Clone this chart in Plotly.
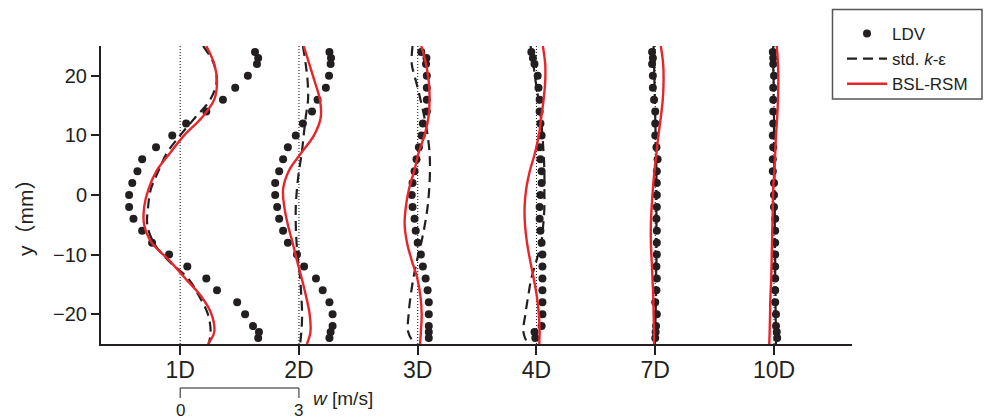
import plotly.graph_objects as go

# Measurement stations downstream and spacing (one station step = 3 m/s of w)
stations = ["1D", "2D", "3D", "4D", "7D", "10D"]
W_STEP = 3.0

# LDV sample heights (mm)
ldv_y = [24, 23, 22, 20, 18, 16, 14, 12, 10, 8, 6, 4, 2, 0,
         -2, -4, -6, -8, -10, -12, -14, -16, -18, -20, -22, -23, -24]

# LDV measured w (m/s) per station
ldv_1d = [1.89, 1.97, 1.94, 1.71, 1.39, 1.08, 0.66, 0.15, -0.20, -0.61, -0.96, -1.08, -1.21, -1.29,
          -1.29, -1.18, -0.96, -0.71, -0.28, 0.18, 0.66, 0.93, 1.44, 1.64, 1.84, 1.99, 1.97]
ldv_2d = [0.77, 0.81, 0.80, 0.76, 0.68, 0.47, 0.33, 0.10, -0.08, -0.28, -0.40, -0.50, -0.60, -0.60,
          -0.55, -0.50, -0.40, -0.28, -0.05, 0.13, 0.43, 0.60, 0.77, 0.85, 0.85, 0.80, 0.77]
ldv_3d = [0.09, 0.22, 0.21, 0.23, 0.23, 0.23, 0.23, 0.13, 0.10, 0.03, -0.03, -0.08, -0.13, -0.15,
          -0.13, -0.08, -0.05, 0.00, 0.08, 0.13, 0.20, 0.25, 0.28, 0.28, 0.28, 0.28, 0.28]
ldv_4d = [-0.13, -0.09, -0.05, 0.03, 0.05, 0.08, 0.08, 0.10, 0.13, 0.08, 0.10, 0.13, 0.13, 0.10,
          0.08, 0.08, 0.10, 0.13, 0.15, 0.15, 0.15, 0.15, 0.15, 0.15, 0.13, -0.05, -0.03]
ldv_7d = [-0.08, -0.06, -0.08, -0.06, -0.06, -0.03, 0.00, 0.00, 0.00, 0.03, 0.06, 0.04, 0.04, 0.04,
          0.04, 0.03, 0.04, 0.04, 0.04, 0.03, 0.04, 0.03, 0.00, 0.04, 0.02, 0.01, 0.00]
ldv_10d = [-0.03, -0.02, -0.02, 0.00, -0.02, -0.02, -0.02, -0.02, -0.03, -0.02, -0.03, -0.03, 0.00, 0.00,
           0.00, 0.03, 0.03, 0.03, 0.03, 0.03, 0.03, 0.03, 0.03, 0.05, 0.05, 0.07, 0.08]

# Simulation profile heights (mm)
sim_y = [25, 22, 19, 16, 13, 10, 7, 4, 1, -2, -5, -8, -11, -14, -17, -20, -23, -25]

# standard k-epsilon w (m/s)
ke_1d = [0.58, 0.85, 0.92, 0.76, 0.38, 0.00, -0.34, -0.55, -0.74, -0.81, -0.83, -0.67, -0.30, 0.20, 0.48, 0.70, 0.77, 0.72]
ke_2d = [0.10, 0.17, 0.22, 0.23, 0.17, 0.12, 0.07, 0.00, -0.05, -0.08, -0.08, -0.06, -0.02, 0.03, 0.06, 0.08, 0.06, 0.03]
ke_3d = [-0.13, -0.15, -0.04, 0.07, 0.17, 0.25, 0.30, 0.31, 0.29, 0.25, 0.18, 0.09, -0.02, -0.11, -0.18, -0.23, -0.24, -0.08]
ke_4d = [-0.15, -0.08, -0.02, 0.05, 0.11, 0.15, 0.18, 0.20, 0.20, 0.20, 0.17, 0.12, 0.00, -0.13, -0.21, -0.28, -0.33, -0.22]
ke_7d = [-0.04, -0.03, -0.02, -0.01, 0.00, 0.01, 0.02, 0.03, 0.03, 0.03, 0.03, 0.03, 0.03, 0.02, 0.02, 0.01, 0.00, -0.01]
ke_10d = [-0.02, -0.02, -0.01, -0.01, 0.00, 0.00, 0.00, 0.01, 0.01, 0.02, 0.02, 0.02, 0.03, 0.03, 0.04, 0.04, 0.05, 0.05]

# BSL Reynolds-stress model w (m/s)
rsm_1d = [0.66, 0.86, 0.93, 0.86, 0.55, 0.10, -0.26, -0.60, -0.80, -0.91, -0.91, -0.72, -0.27, 0.13, 0.53, 0.79, 0.86, 0.70]
rsm_2d = [0.12, 0.26, 0.40, 0.53, 0.55, 0.38, 0.05, -0.26, -0.40, -0.37, -0.28, -0.16, -0.05, 0.07, 0.18, 0.27, 0.29, 0.20]
rsm_3d = [0.09, 0.21, 0.28, 0.30, 0.27, 0.17, 0.02, -0.09, -0.22, -0.30, -0.33, -0.27, -0.15, -0.01, 0.07, 0.10, 0.08, 0.06]
rsm_4d = [0.16, 0.22, 0.22, 0.18, 0.12, 0.06, -0.04, -0.17, -0.26, -0.30, -0.29, -0.24, -0.16, -0.07, 0.01, 0.06, 0.08, 0.07]
rsm_7d = [0.14, 0.20, 0.21, 0.19, 0.14, 0.08, 0.03, -0.02, -0.06, -0.09, -0.11, -0.11, -0.09, -0.07, -0.05, -0.04, -0.03, -0.03]
rsm_10d = [0.07, 0.10, 0.11, 0.10, 0.08, 0.05, 0.03, 0.01, -0.02, -0.03, -0.04, -0.05, -0.06, -0.07, -0.09, -0.10, -0.11, -0.12]

ldv_sets = [ldv_1d, ldv_2d, ldv_3d, ldv_4d, ldv_7d, ldv_10d]
ke_sets = [ke_1d, ke_2d, ke_3d, ke_4d, ke_7d, ke_10d]
rsm_sets = [rsm_1d, rsm_2d, rsm_3d, rsm_4d, rsm_7d, rsm_10d]

BLACK = "#231f20"
RED = "#e8252b"
FONT = "Liberation Sans, Arial, Noto Sans CJK JP, sans-serif"

offsets = [(i + 1) * W_STEP for i in range(len(stations))]


def stacked(sets, ys):
    """Shift each station's profile to its station position; gaps split stations."""
    xs_all, ys_all = [], []
    for off, ws in zip(offsets, sets):
        xs_all += [off + w for w in ws] + [None]
        ys_all += list(ys) + [None]
    return xs_all, ys_all


fig = go.Figure()

kx, ky = stacked(ke_sets, sim_y)
fig.add_trace(go.Scatter(
    x=kx, y=ky, mode="lines", name="std. <i>k</i>-ε", legendrank=2,
    line=dict(color=BLACK, width=2.2, dash="10px,6px", shape="spline", smoothing=1.0),
    connectgaps=False,
))

lx, ly = stacked(ldv_sets, ldv_y)
fig.add_trace(go.Scatter(
    x=lx, y=ly, mode="markers", name="LDV", legendrank=1,
    marker=dict(color=BLACK, size=8, line=dict(width=0)),
))

rx, ry = stacked(rsm_sets, sim_y)
fig.add_trace(go.Scatter(
    x=rx, y=ry, mode="lines", name="BSL-RSM", legendrank=3,
    line=dict(color=RED, width=2.4, shape="spline", smoothing=1.0),
    connectgaps=False,
))

shapes = []
# w = 0 reference line at every station
for off in offsets:
    shapes.append(dict(type="line", xref="x", yref="y", x0=off, x1=off, y0=-25, y1=25,
                       line=dict(color=BLACK, width=1.1, dash="1px,2px"), layer="below"))


def py(px):
    # pixel row -> paper y
    return (344 - px) / 298.0


def px_x(px):
    # pixel column -> paper x
    return (px - 101) / 751.0


# velocity scale bar: 0 .. W_STEP m/s, starting at the first station
bar_x0, bar_x1 = offsets[0], offsets[0] + W_STEP
shapes += [
    dict(type="line", xref="x", yref="paper", x0=bar_x0, x1=bar_x1, y0=py(388), y1=py(388),
         line=dict(color=BLACK, width=1)),
    dict(type="line", xref="x", yref="paper", x0=bar_x0, x1=bar_x0, y0=py(388), y1=py(398),
         line=dict(color=BLACK, width=1)),
    dict(type="line", xref="x", yref="paper", x0=bar_x1, x1=bar_x1, y0=py(388), y1=py(398),
         line=dict(color=BLACK, width=1)),
]
# legend frame
shapes.append(dict(type="rect", xref="paper", yref="paper",
                   x0=px_x(832.5), x1=px_x(982), y0=py(99), y1=py(9.5),
                   line=dict(color="#555555", width=1.5), fillcolor="rgba(0,0,0,0)"))

annotations = [
    dict(text="0", xref="x", yref="paper", x=bar_x0, y=py(410), showarrow=False,
         font=dict(size=17, color=BLACK, family=FONT), xanchor="center", yanchor="middle"),
    dict(text="3", xref="x", yref="paper", x=bar_x1, y=py(410), showarrow=False,
         font=dict(size=17, color=BLACK, family=FONT), xanchor="center", yanchor="middle"),
    dict(text="<i>w</i> [m/s]", xref="paper", yref="paper", x=px_x(311), y=py(398),
         showarrow=False, font=dict(size=19, color=BLACK, family=FONT),
         xanchor="left", yanchor="middle"),
    dict(text="y（mm）", xref="paper", yref="paper", x=px_x(25), y=py(212), textangle=-90,
         showarrow=False, font=dict(size=21, color=BLACK, family=FONT),
         xanchor="center", yanchor="middle"),
]

fig.update_layout(
    width=986, height=419,
    margin=dict(l=101, r=134, t=46, b=75, pad=0),
    paper_bgcolor="white", plot_bgcolor="white",
    font=dict(family=FONT, color=BLACK),
    showlegend=True,
    legend=dict(x=px_x(842), y=py(16), xanchor="left", yanchor="top",
                bgcolor="rgba(0,0,0,0)", borderwidth=0,
                font=dict(size=17, color=BLACK, family=FONT),
                itemwidth=40, tracegroupgap=0),
    shapes=shapes,
    annotations=annotations,
    xaxis=dict(
        range=[1.0, 19.97], showgrid=False, zeroline=False,
        showline=True, linecolor=BLACK, linewidth=2,
        tickmode="array", tickvals=offsets, ticktext=stations,
        ticks="outside", ticklen=9, tickwidth=2, tickcolor=BLACK,
        tickfont=dict(size=23, color=BLACK, family=FONT),
        ticklabelstandoff=-5,
    ),
    yaxis=dict(
        range=[-25, 25], showgrid=False, zeroline=False,
        showline=True, linecolor=BLACK, linewidth=2,
        tickmode="array", tickvals=[-20, -10, 0, 10, 20],
        ticks="outside", ticklen=8, tickwidth=2, tickcolor=BLACK,
        tickfont=dict(size=20, color=BLACK, family=FONT),
    ),
)

fig.write_html("out.html")
